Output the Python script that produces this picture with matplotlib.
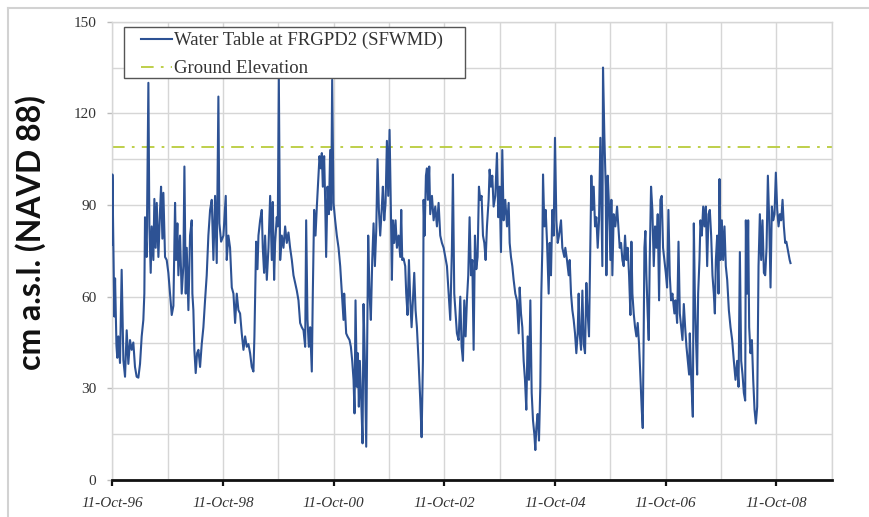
import matplotlib
matplotlib.use("Agg")
import matplotlib.pyplot as plt
import matplotlib.dates as mdates
from matplotlib.lines import Line2D
from matplotlib.patches import Rectangle
from matplotlib.ticker import MultipleLocator, FixedLocator
import numpy as np
from datetime import datetime

# ---------------- data ----------------
start_date = "1996-10-11"
# time since start (years) and water table level (cm a.s.l., NAVD 88)
t_years = [
    0.000, 0.002, 0.019, 0.037, 0.050, 0.075, 0.090, 0.109, 0.139, 0.169, 0.200, 0.230, 0.260,
    0.290, 0.320, 0.350, 0.380, 0.410, 0.440, 0.471, 0.501, 0.531, 0.561, 0.579, 0.591, 0.621,
    0.640, 0.652, 0.670, 0.694, 0.712, 0.742, 0.760, 0.784, 0.803, 0.833, 0.863, 0.881, 0.905,
    0.923, 0.953, 0.983, 1.013, 1.043, 1.074, 1.104, 1.134, 1.152, 1.176, 1.194, 1.224, 1.254,
    1.284, 1.303, 1.327, 1.345, 1.375, 1.405, 1.435, 1.447, 1.465, 1.483, 1.507, 1.532, 1.556,
    1.586, 1.616, 1.646, 1.676, 1.706, 1.736, 1.767, 1.797, 1.827, 1.857, 1.887, 1.917, 1.935,
    1.966, 2.008, 2.050, 2.068, 2.098,
    2.128, 2.159, 2.189, 2.219, 2.249, 2.279, 2.309, 2.339, 2.370, 2.400, 2.430, 2.460, 2.490,
    2.520, 2.550, 2.568, 2.587, 2.599, 2.623, 2.641, 2.671, 2.701, 2.719, 2.743, 2.761, 2.792,
    2.822, 2.852, 2.882, 2.900, 2.924, 2.942, 2.972, 2.990, 3.009, 3.033, 3.063, 3.093, 3.123,
    3.153, 3.183, 3.213, 3.244, 3.274, 3.304, 3.334, 3.364, 3.394, 3.424, 3.455, 3.485, 3.503,
    3.527, 3.551, 3.575, 3.605, 3.623, 3.647, 3.672, 3.696, 3.726, 3.744, 3.768, 3.786, 3.804,
    3.828, 3.846, 3.864, 3.889, 3.913, 3.937, 3.955, 3.973, 3.997, 4.027, 4.057, 4.088, 4.118,
    4.148, 4.178,
    4.190, 4.226, 4.250, 4.287, 4.311, 4.335, 4.359, 4.377, 4.395, 4.419, 4.437, 4.455, 4.473,
    4.498, 4.522, 4.540, 4.564, 4.588, 4.606, 4.624, 4.648, 4.672, 4.697, 4.721, 4.745, 4.769,
    4.793, 4.817, 4.841, 4.871, 4.889, 4.914, 4.938, 4.962, 4.986, 5.010, 5.034, 5.052, 5.070,
    5.094, 5.118, 5.143, 5.173, 5.203, 5.221, 5.239, 5.263, 5.293, 5.311, 5.335, 5.360, 5.384,
    5.408, 5.432, 5.456, 5.480, 5.504, 5.534, 5.565, 5.589, 5.613, 5.625, 5.643, 5.667, 5.685,
    5.703, 5.727, 5.745, 5.776, 5.806, 5.836, 5.866, 5.896, 5.926, 5.956, 5.987, 6.017, 6.047,
    6.077, 6.107, 6.137, 6.155,
    6.179, 6.203, 6.227, 6.258, 6.288, 6.312, 6.336, 6.360, 6.384, 6.408, 6.432, 6.456, 6.481,
    6.505, 6.529, 6.553, 6.577, 6.601, 6.625, 6.649, 6.673, 6.698, 6.722, 6.746, 6.770, 6.800,
    6.818, 6.842, 6.866, 6.890, 6.921, 6.951, 6.975, 6.999, 7.023, 7.047, 7.071, 7.101, 7.132,
    7.162, 7.180, 7.204, 7.228, 7.252, 7.282, 7.312, 7.343, 7.361, 7.385, 7.409, 7.433, 7.457,
    7.481, 7.505, 7.529, 7.554, 7.578, 7.602, 7.626, 7.644, 7.662, 7.686, 7.710, 7.734, 7.752,
    7.771, 7.783, 7.807, 7.831, 7.855, 7.885, 7.903, 7.927, 7.951, 7.975, 7.999, 8.024, 8.048,
    8.072, 8.108, 8.132, 8.168,
    8.186, 8.216, 8.247, 8.265, 8.289, 8.313, 8.337, 8.361, 8.385, 8.409, 8.427, 8.445, 8.470,
    8.494, 8.518, 8.542, 8.566, 8.590, 8.614, 8.638, 8.656, 8.675, 8.699, 8.723, 8.747, 8.771,
    8.795, 8.819, 8.837, 8.855, 8.867, 8.892, 8.916, 8.928, 8.952, 8.976, 9.000, 9.018, 9.036,
    9.060, 9.090, 9.121, 9.145, 9.169, 9.193, 9.217, 9.241, 9.265, 9.289, 9.313, 9.338, 9.362,
    9.380, 9.398, 9.422, 9.446, 9.470, 9.494, 9.518, 9.543, 9.567, 9.585, 9.603, 9.615, 9.633,
    9.651, 9.675, 9.693, 9.711, 9.735, 9.759, 9.784, 9.808, 9.832, 9.856, 9.880, 9.904, 9.928,
    9.952, 9.976, 10.001, 10.025, 10.049, 10.073, 10.097, 10.121, 10.157,
    10.176, 10.206, 10.231, 10.255, 10.279, 10.303, 10.327, 10.351, 10.375, 10.399, 10.423,
    10.435, 10.460, 10.490, 10.508, 10.526, 10.544, 10.568, 10.586, 10.610, 10.628, 10.652,
    10.677, 10.701, 10.725, 10.749, 10.773, 10.797, 10.821, 10.845, 10.869, 10.888, 10.906,
    10.930, 10.954, 10.972, 10.990, 11.014, 11.038, 11.062, 11.086, 11.111, 11.141, 11.171,
    11.201, 11.231, 11.261, 11.291, 11.316, 11.340, 11.364, 11.388, 11.412, 11.436, 11.448,
    11.472, 11.490, 11.508, 11.532, 11.557, 11.581, 11.605, 11.629, 11.653, 11.677, 11.701,
    11.725, 11.749, 11.774, 11.798, 11.822, 11.846, 11.870, 11.894, 11.918, 11.942, 11.966,
    11.990, 12.015, 12.039, 12.063, 12.087, 12.111, 12.135, 12.159, 12.180, 12.200, 12.220,
    12.240, 12.255,
]
level_cm = [
    77, 100, 76.4, 53.5, 66, 44, 40, 47, 38.3, 68.8, 39.3, 33.8, 49,
    38, 45.8, 42.6, 45, 37, 33.8, 33.5, 38, 47, 52.4, 61, 86, 73,
    108, 130, 83, 67.8, 83, 72, 92, 76, 90.7, 73, 88.4, 96, 79,
    94, 73, 72, 67.8, 61, 54, 57, 90.7, 72, 84, 67, 80, 61,
    70, 102.6, 61, 76, 55.6, 80, 85, 61, 55.6, 42.6, 35, 41.5, 42.6,
    37, 44.5, 50, 58.8, 67, 80, 88.4, 91.7, 72, 93, 71, 125.5, 84,
    78, 80, 93, 72, 80,
    76, 63, 61, 51.4, 61, 55.6, 54.5, 48, 42.6, 47, 43.6, 44.5, 41.5,
    37, 35.5, 47, 67, 78, 69, 80, 85, 88.4, 76, 67.8, 80, 65.5,
    76, 93, 72, 91, 65.5, 77.6, 86, 83, 132, 72, 80, 76, 83,
    77.6, 81, 76, 72, 67, 64.5, 62, 58.8, 51.4, 50, 49, 43.6, 85,
    52.4, 43.6, 50, 35.5, 61, 88.4, 80, 89.5, 99.6, 106, 102, 107, 96,
    106, 91.7, 73, 96, 87, 108, 88.4, 131, 90.7, 85, 80, 76, 70,
    61, 52.4,
    61, 48, 47, 45.8, 43.6, 39, 32.8, 21.8, 58.8, 30.5, 41.5, 24, 39,
    26, 12, 57.6, 39, 10.9, 47, 80, 61, 52.4, 72, 84, 70, 81.5,
    105, 88.4, 80, 89.5, 96, 85, 90.7, 111, 93, 114.6, 88.4, 65.5, 85,
    77.6, 85, 76, 80, 73, 88.4, 72, 72.5, 70, 61, 54, 72, 58.8,
    50, 58.8, 67.8, 55.6, 50, 39, 26, 14, 39, 91.7, 80, 99.6, 102,
    91.7, 102.6, 87, 93, 85, 89.5, 83, 90.7, 80, 77.6, 76, 73, 70,
    61, 52.4, 76, 100,
    61, 54.5, 48, 45.8, 60, 43.6, 39, 58.8, 47, 58.8, 67, 86, 67,
    72, 42.6, 80, 69, 73, 96, 91.7, 93, 80, 77.6, 72, 83, 91.7,
    101.6, 96, 99.6, 89.5, 93, 107, 86, 96, 74.6, 108, 85, 91.7, 83,
    90.7, 77.6, 73, 70, 65.5, 61, 58.8, 48, 63, 54.5, 50, 39, 32.8,
    23, 47, 32.8, 58.8, 28.5, 19.5, 15, 9.8, 17, 21.6, 12.9, 30.5, 61,
    76, 100, 83, 88.4, 78, 61, 77.6, 67, 88.4, 80, 112, 85, 77.6,
    80, 85, 76, 73,
    76, 72, 67, 72, 61, 55.6, 52.4, 48, 41.5, 48, 61, 48, 42.6,
    62, 44.5, 41.5, 64.5, 54.5, 47, 76, 99.6, 88.4, 96, 83, 86, 76,
    85, 112, 91.7, 70, 135, 112, 96, 67, 99.6, 89.5, 72, 91.7, 67,
    87, 83, 89.5, 83, 76, 77.6, 72, 70, 80, 72, 76, 67, 54,
    78, 61, 54.5, 50, 47, 51.4, 44.5, 33.8, 23, 17, 50, 76, 81.5,
    67, 54, 45.8, 72, 96, 88.4, 70, 83, 76, 87, 58.8, 91.7, 93,
    76, 72, 67.8, 63, 88.4, 67, 58.8, 61, 54.5,
    58.8, 51.4, 78, 54.5, 50, 45.8, 57.6, 50, 43.6, 39, 34.5,
    48, 33.8, 20.7, 84, 61, 48, 34.5, 61, 72, 85, 80,
    89.5, 83, 89.5, 70, 87, 88.4, 80, 67, 61, 54.5, 72,
    80, 61, 98.5, 72, 85, 72, 83, 70, 65.5, 55.6, 50,
    45.8, 39, 32.8, 39, 30.5, 74.6, 39, 34.5, 28.5, 26, 85,
    61, 85, 50, 41.5, 45.8, 32.8, 23, 18.5, 24, 70, 87,
    72, 85, 67.8, 67, 76, 99.6, 85, 63, 89.5, 85, 87,
    100.6, 88.4, 83, 87, 85, 91.7, 83, 77.6, 78, 76, 74,
    72, 71,
]
ground_elevation_cm = 109.0
x_tick_labels = ["11-Oct-96", "11-Oct-98", "11-Oct-00", "11-Oct-02",
                 "11-Oct-04", "11-Oct-06", "11-Oct-08"]
y_tick_values = [0, 30, 60, 90, 120, 150]
series_label = "Water Table at FRGPD2 (SFWMD)"
ground_label = "Ground Elevation"
y_label = "cm a.s.l. (NAVD 88)"

# ---------------- figure ----------------
W, H = 870, 517
fig = plt.figure(figsize=(W / 100, H / 100), dpi=100)
fig.patch.set_facecolor("white")

left, right, top, bottom = 112.3, 831.7, 21.7, 480.0
ax = fig.add_axes([left / W, 1 - bottom / H, (right - left) / W, (bottom - top) / H])

def ax_fx(px):
    return (px - left) / (right - left)

def ax_fy(py):
    return (bottom - py) / (bottom - top)

x0 = mdates.datestr2num(start_date)
x = x0 + np.array(t_years) * 365.25

grid_col = "#d6d6d6"
ax.plot(x, level_cm, color="#2d5294", lw=1.5, label=series_label, zorder=3)
ax.axhline(ground_elevation_cm, color="#b9cc3c", lw=1.3,
           linestyle=(0, (7, 4, 1.5, 4)), label=ground_label, zorder=2)

tick_dates = [mdates.date2num(datetime.strptime(s, "%d-%b-%y")) for s in x_tick_labels]
year_dates = [mdates.date2num(datetime(1996 + k, 10, 11)) for k in range(0, 14)]
ax.set_xlim(year_dates[0], year_dates[13])
ax.set_ylim(0, 150)

ax.xaxis.set_major_locator(FixedLocator(tick_dates))
ax.set_xticklabels(x_tick_labels)
ax.xaxis.set_minor_locator(FixedLocator(year_dates))
ax.yaxis.set_major_locator(FixedLocator(y_tick_values))
ax.yaxis.set_minor_locator(MultipleLocator(15))

ax.grid(which="both", color=grid_col, lw=1.0, zorder=0)
ax.set_axisbelow(True)

for s in ["left", "top", "right"]:
    ax.spines[s].set_color(grid_col)
    ax.spines[s].set_linewidth(1.0)
ax.spines["bottom"].set_color("#111111")
ax.spines["bottom"].set_linewidth(2.0)

ax.tick_params(axis="x", which="major", direction="out", length=4.5, width=1.6,
               color="#111111", pad=8)
ax.tick_params(axis="x", which="minor", length=0)
ax.tick_params(axis="y", which="major", direction="out", length=3.5, width=1.0,
               color="#bbbbbb", pad=8)
ax.tick_params(axis="y", which="minor", length=0)

for lab in ax.get_xticklabels():
    lab.set_family("Liberation Serif")
    lab.set_style("italic")
    lab.set_fontsize(11)
    lab.set_color("#333333")
for lab in ax.get_yticklabels():
    lab.set_family("Liberation Serif")
    lab.set_fontsize(11)
    lab.set_color("#333333")

# legend frame drawn as a box, legend entries placed inside it
box = Rectangle((ax_fx(124), ax_fy(78)), ax_fx(465) - ax_fx(124), ax_fy(27) - ax_fy(78),
                transform=ax.transAxes, facecolor="white", edgecolor="#555555",
                lw=1.0, zorder=5)
ax.add_patch(box)
leg = ax.legend(loc="upper left", bbox_to_anchor=(ax_fx(141), ax_fy(32)),
                borderaxespad=0, borderpad=0, frameon=False,
                prop={"family": "Liberation Serif", "size": 13.5},
                handlelength=1.65, handletextpad=0.12, labelspacing=0.58)
leg.set_zorder(6)
for t in leg.get_texts():
    t.set_color("#333333")

fig.text(31 / W, 1 - 233 / H, y_label, rotation=90, ha="center", va="center",
         family="Lato", weight="bold", fontsize=23, color="#111111")

# outer light frame (top and left edges visible)
fig.add_artist(Line2D([8 / W, 1.0], [1 - 8 / H, 1 - 8 / H], transform=fig.transFigure,
                      color="#d2d2d2", lw=1.5))
fig.add_artist(Line2D([8 / W, 8 / W], [0.0, 1 - 8 / H], transform=fig.transFigure,
                      color="#d2d2d2", lw=1.5))

fig.savefig("out.png", dpi=100)
